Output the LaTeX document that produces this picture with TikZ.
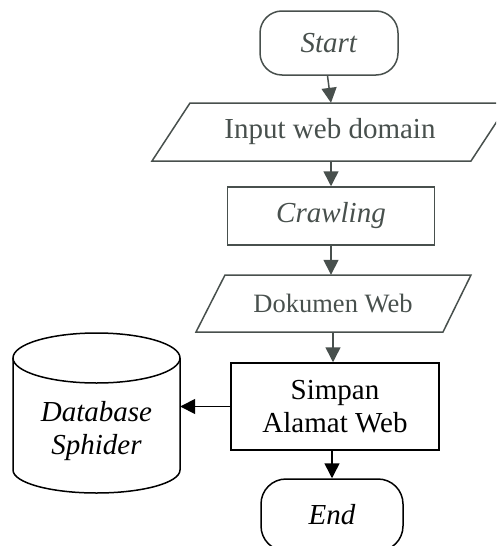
\documentclass[tikz,border=0pt]{standalone}
\usepackage{fontspec}
\setmainfont{Liberation Serif}[ItalicFont={Liberation Serif Italic}]
\usetikzlibrary{arrows.meta,calc}
\definecolor{upc}{RGB}{72,80,77}
\begin{document}
\begin{tikzpicture}[x=1pt,y=-1pt,
  lw/.style={line width=1.5pt},
  arr/.style={lw,-{Triangle[length=15pt,width=15pt]}},
  txt/.style={font=\fontsize{29}{33}\selectfont, align=center, inner sep=0pt},
  txts/.style={font=\fontsize{26.5}{30}\selectfont, align=center, inner sep=0pt},
  term/.style={draw, lw, txt, minimum width=#1, minimum height=64pt, rounded corners=22pt},
  box/.style={draw, lw, txt, minimum width=207pt}]
\useasboundingbox (0,0) rectangle (496,546);
\clip (0,0) rectangle (496,546);

% Start
\node[term=138pt, draw=upc, text=upc] (start) at (329,43) {\textit{Start}};

% Input web domain (parallelogram)
\node[txt, minimum width=300pt, minimum height=58pt, text=upc] (inp) at (330,132) {Input web domain};
\draw[lw, upc] (190,103) -- (509,103) -- (471,161) -- (152,161) -- cycle;

% Crawling
\node[box, minimum height=58pt, draw=upc, text=upc] (crawl) at (331,216) {\textit{Crawling}};

% Dokumen Web (parallelogram)
\node[txts, minimum width=220pt, minimum height=57pt, text=upc] (dok) at (333,303.5) {Dokumen Web};
\draw[lw, upc] (225,275) -- (471,275) -- (443,332) -- (196,332) -- cycle;

% Simpan Alamat Web
\node[box, minimum width=208pt, minimum height=87pt] (simpan) at (335,406.5) {Simpan\\Alamat Web};

% Database Sphider (cylinder)
\node[txt, minimum width=167pt] (db) at (96.5,431) {\textit{Database}\\\textit{Sphider}};
\draw[lw] (96.5,358) ellipse [x radius=83.5pt, y radius=25pt];
\draw[lw] (13,358) -- (13,470) arc[start angle=180, end angle=360, x radius=83.5pt, y radius=23pt] -- (180,358);

% End
\node[draw, lw, txt, minimum width=142pt, minimum height=72pt, rounded corners=25pt] (end) at (332,515) {\textit{End}};

% connectors
\draw[arr, upc] ($(start.south)+(-1.5,0)$) -- ($(inp.north)+(1,0)$);
\draw[arr, upc] (inp.south -| crawl.north) -- (crawl.north);
\draw[arr, upc] (crawl.south) -- (crawl.south |- dok.north);
\draw[arr, upc] (dok.south) -- (dok.south |- simpan.north);
\draw[arr] (simpan.west) -- (simpan.west -| db.east);
\draw[arr] (simpan.south -| end.north) -- (end.north);
\end{tikzpicture}
\end{document}
